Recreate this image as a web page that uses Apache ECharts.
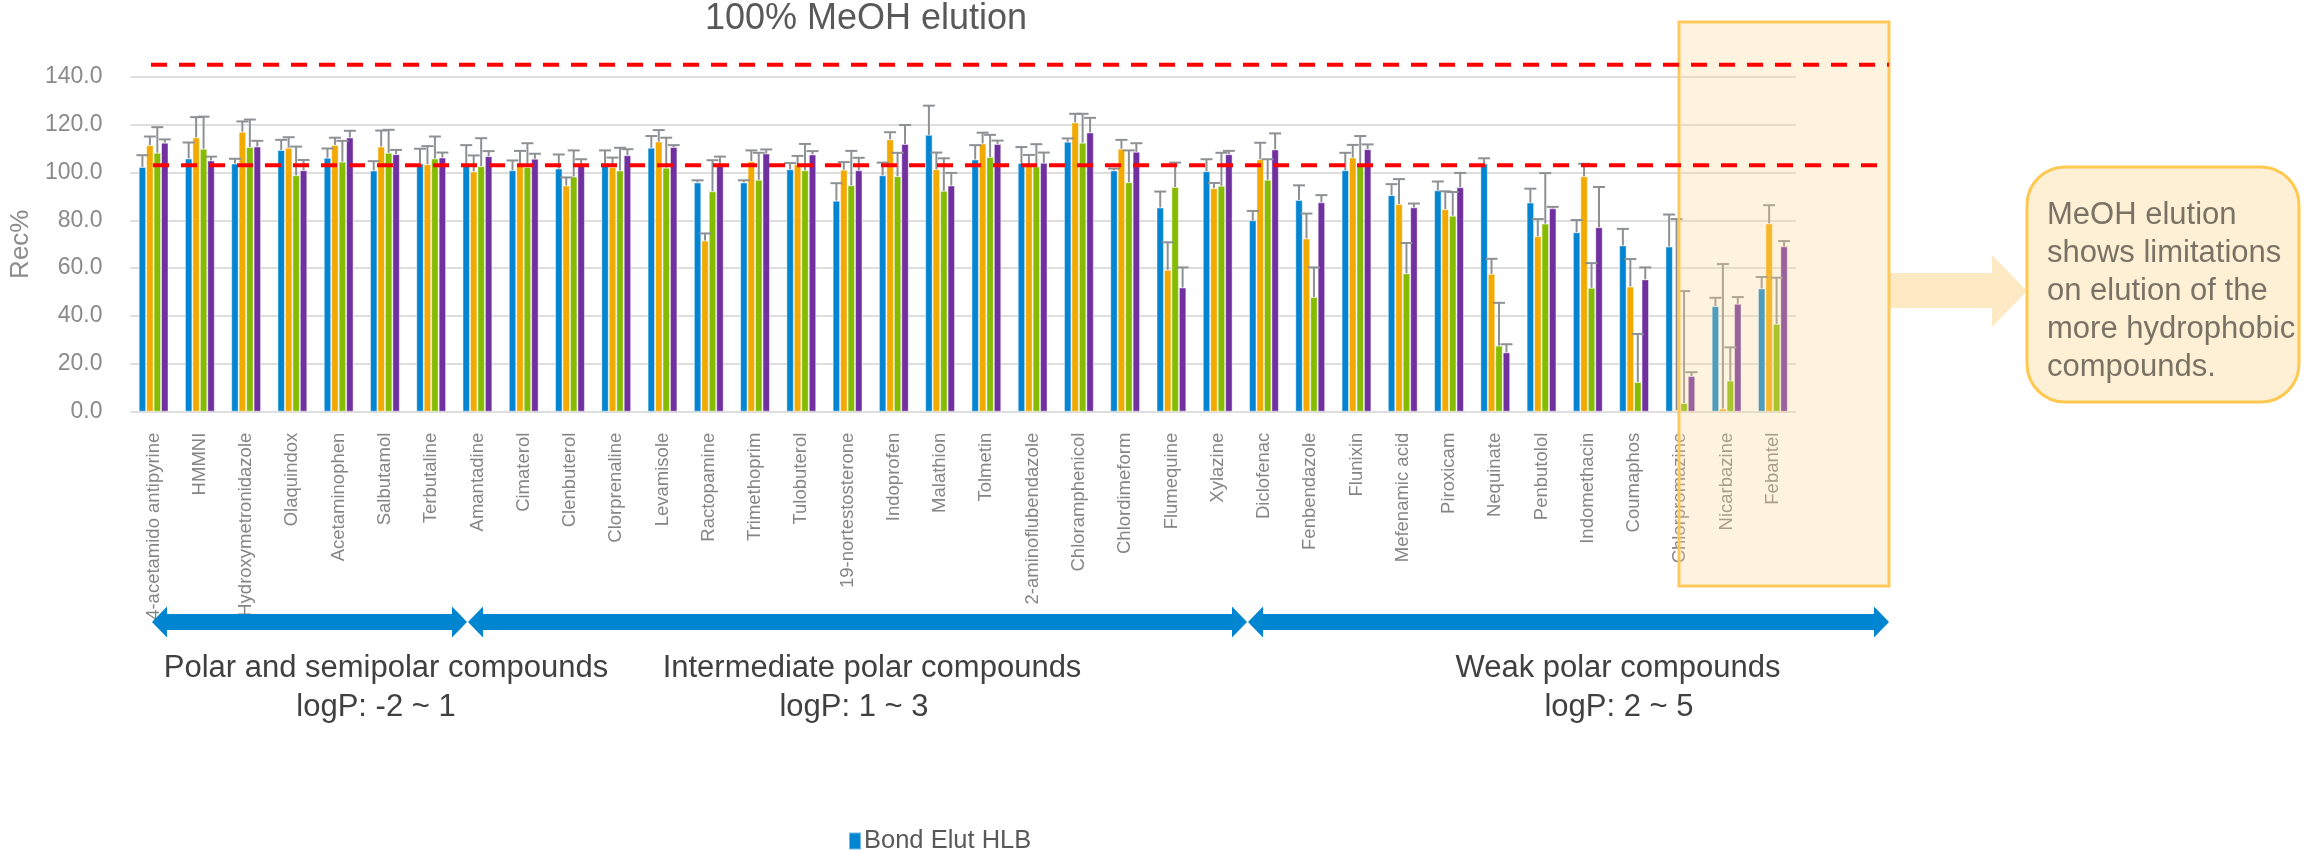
<!DOCTYPE html>
<html>
<head>
<meta charset="utf-8">
<script src="https://cdn.jsdelivr.net/npm/echarts/dist/echarts.min.js"></script>
<style>
html,body{margin:0;padding:0;background:#fff;}
#chart{width:2305px;height:850px;}
</style>
</head>
<body>
<div id="chart"></div>
<script>
// ---------------- DATA ----------------
const categories = [
  '4-acetamido antipyrine','HMMNI','Hydroxymetronidazole','Olaquindox','Acetaminophen','Salbutamol',
  'Terbutaline','Amantadine','Cimaterol','Clenbuterol','Clorprenaline','Levamisole','Ractopamine',
  'Trimethoprim','Tulobuterol','19-nortestosterone','Indoprofen','Malathion','Tolmetin',
  '2-aminoflubendazole','Chloramphenicol','Chlordimeform','Flumequine','Xylazine','Diclofenac',
  'Fenbendazole','Flunixin','Mefenamic acid','Piroxicam','Nequinate','Penbutolol','Indomethacin',
  'Coumaphos','Chlorpromazine','Nicarbazine','Febantel'
];
const seriesNames = ['Bond Elut HLB', 'Sorbent 2', 'Sorbent 3', 'Sorbent 4'];

const bondElutHLB = [102.3,105.8,103.7,109.4,106.1,100.8,103.7,103.9,100.9,101.6,103.9,110.3,95.8,95.8,101.3,88.2,98.8,115.7,105.4,103.9,112.8,100.8,85.3,100.5,80.0,88.5,100.9,90.5,92.5,103.7,87.4,75.0,69.5,69.0,44.1,51.5];
const bondElutHLBErr = [4.9,6.7,2.0,4.2,3.9,3.9,6.2,7.5,4.1,5.9,5.3,4.9,0.9,0.9,2.6,7.3,5.3,12.2,6.0,6.7,1.4,0.8,6.7,5.0,3.9,6.1,7.3,4.6,3.7,2.2,5.8,5.1,6.9,13.4,3.5,4.8];

const sorbent2 = [111.4,114.6,117.0,110.3,111.5,110.8,103.4,100.4,102.7,94.5,102.3,112.9,71.5,104.7,103.4,101.1,113.8,101.3,112.1,103.0,120.9,109.9,59.3,93.4,105.5,72.4,106.2,86.8,84.6,57.6,73.3,98.4,52.3,0.7,1.3,78.7];
const sorbent2Err = [3.6,8.5,4.3,4.4,3.0,6.7,7.6,6.7,6.3,3.4,3.9,4.8,3.0,4.5,3.5,3.2,3.0,7.0,4.5,4.3,3.6,3.7,11.5,2.2,6.9,10.4,5.3,10.4,7.5,6.3,7.2,5.2,11.5,79.8,60.4,7.6];

const sorbent3 = [108.2,109.9,110.6,98.8,104.5,108.2,105.8,102.6,102.3,98.3,100.8,102.0,92.1,96.9,100.9,94.6,98.4,92.3,106.4,102.5,112.4,95.9,93.9,94.4,96.9,47.9,103.3,57.8,81.9,27.6,78.6,51.8,12.4,3.6,13.0,36.7];
const sorbent3Err = [10.7,13.4,11.5,12.0,8.7,9.6,9.2,11.7,9.9,10.9,9.5,12.5,13.0,11.3,11.0,14.4,9.8,13.6,9.3,9.3,12.1,13.3,10.2,13.8,8.6,12.4,11.9,12.7,9.9,17.9,21.1,10.3,20.1,46.8,13.9,19.3];

const sorbent4 = [112.4,105.0,110.8,100.9,114.6,107.6,106.2,106.8,105.7,103.4,107.2,110.6,103.4,107.9,107.5,100.9,111.9,94.5,111.9,104.0,116.7,108.6,51.9,107.6,109.6,87.5,109.7,85.4,93.8,24.8,85.0,77.1,55.3,14.9,45.1,69.1];
const sorbent4Err = [1.4,1.6,2.4,4.3,2.8,1.8,2.1,2.1,2.1,2.1,2.5,0.8,3.2,1.7,1.4,5.2,7.9,5.3,1.4,4.3,6.1,3.6,8.4,1.4,6.7,3.0,2.0,1.6,6.0,3.4,0.6,16.8,5.0,1.6,2.8,2.2];

const yTicks = {min: 0, max: 140, interval: 20};
const referenceLines = [145, 103];   // red dashed lines (Rec%)
const chartTitle = '100% MeOH elution';
const groupLabels = [
  {title: 'Polar and semipolar compounds', sub: 'logP: -2 ~ 1'},
  {title: 'Intermediate polar compounds', sub: 'logP: 1 ~ 3'},
  {title: 'Weak polar compounds', sub: 'logP: 2 ~ 5'}
];
const calloutLines = ['MeOH elution', 'shows limitations', 'on elution of the', 'more hydrophobic', 'compounds.'];

// ---------------- CHART ----------------
const values = [bondElutHLB, sorbent2, sorbent3, sorbent4];
const errs = [bondElutHLBErr, sorbent2Err, sorbent3Err, sorbent4Err];
const colors = ['#0485d2', '#f2a900', '#86bc00', '#7030a0'];
const GAP = 0.355;
const FONT = '"Liberation Sans", Arial, sans-serif';

const chart = echarts.init(document.getElementById('chart'), null, {renderer: 'canvas'});

function errRender(si) {
  return function (params, api) {
    const ci = api.value(0), v = api.value(1), e = api.value(2);
    const band = api.size([1, 0])[0];
    const bw = band * (1 - GAP) / 4;
    const off = (si - 1.5) * bw;
    const p0 = api.coord([ci, v]);
    const p1 = api.coord([ci, v + e]);
    const x = p0[0] + off;
    const cap = 6;
    const st = {stroke: '#8e9194', lineWidth: 2};
    return {
      type: 'group',
      children: [
        {type: 'line', shape: {x1: x, y1: p0[1], x2: x, y2: p1[1]}, style: st},
        {type: 'line', shape: {x1: x - cap, y1: p1[1], x2: x + cap, y2: p1[1]}, style: st}
      ]
    };
  };
}

const series = [];
values.forEach((vals, si) => {
  series.push({
    name: seriesNames[si],
    type: 'bar',
    data: vals,
    barGap: '0%',
    barCategoryGap: (GAP * 100) + '%',
    itemStyle: {color: colors[si], borderColor: 'rgba(255,255,255,0.45)', borderWidth: 1},
    z: 2
  });
});
values.forEach((vals, si) => {
  series.push({
    name: seriesNames[si] + ' error',
    type: 'custom',
    renderItem: errRender(si),
    data: vals.map((v, i) => [i, v, errs[si][i]]),
    encode: {x: 0, y: 1},
    z: 3,
    silent: true
  });
});

const option = {
  animation: false,
  backgroundColor: '#ffffff',
  grid: {left: 122, right: 509, top: 76.7, bottom: 438.3, containLabel: false},
  legend: {
    data: [seriesNames[0]],
    left: 843, top: 823,
    icon: 'rect', itemWidth: 12, itemHeight: 17, itemGap: 6,
    textStyle: {fontSize: 25.5, color: '#595959', fontFamily: FONT, padding: [0, 0, 0, -2]}
  },
  xAxis: {
    type: 'category',
    data: categories,
    axisLine: {show: false},
    axisTick: {show: false},
    axisLabel: {interval: 0, rotate: 90, margin: 21, fontSize: 18.5, color: '#858585', fontFamily: FONT}
  },
  yAxis: {
    type: 'value',
    min: yTicks.min, max: yTicks.max, interval: yTicks.interval,
    name: 'Rec%',
    nameLocation: 'middle',
    nameGap: 96,
    nameTextStyle: {fontSize: 26, color: '#8c8c8c', fontFamily: FONT},
    axisLine: {show: false},
    axisTick: {show: false},
    axisLabel: {fontSize: 23, color: '#8a8a8a', margin: 28, fontFamily: FONT, formatter: v => v.toFixed(1)},
    splitLine: {lineStyle: {color: '#dedede', width: 2}}
  },
  series: series
};
chart.setOption(option);

// ---------------- ANNOTATIONS ----------------
function arrowPoints(x1, x2, yc) {
  const hl = 15, hh = 15.5, sh = 8;
  return [[x1, yc], [x1 + hl, yc - hh], [x1 + hl, yc - sh], [x2 - hl, yc - sh], [x2 - hl, yc - hh], [x2, yc],
          [x2 - hl, yc + hh], [x2 - hl, yc + sh], [x1 + hl, yc + sh], [x1 + hl, yc + hh]];
}
const g = [];
// title
g.push({type: 'text', z: 100, style: {text: chartTitle, x: 866, y: 19, textAlign: 'center', textVerticalAlign: 'middle',
  font: '36px ' + FONT, fill: '#595959'}});
// highlight box (semi-transparent)
g.push({type: 'rect', z: 50, shape: {x: 1679, y: 22, width: 210, height: 564},
  style: {fill: 'rgba(252,215,145,0.30)', stroke: '#ffc85c', lineWidth: 3}});
// reference lines
referenceLines.forEach((v, k) => {
  const y = chart.convertToPixel({yAxisIndex: 0}, v);
  g.push({type: 'line', z: 60, shape: {x1: k === 0 ? 151 : 153, y1: y, x2: 1889, y2: y},
    style: {stroke: '#ff0000', lineWidth: 4, lineDash: [16, 12]}});
});
// blue double arrows
const arrowSpans = [[152, 467], [468, 1247], [1248, 1889]];
arrowSpans.forEach(s => {
  g.push({type: 'polygon', z: 40, shape: {points: arrowPoints(s[0], s[1], 622)}, style: {fill: '#0085d1'}});
});
// group labels
const groupCenters = [[386, 376], [872, 854], [1618, 1619]];
groupLabels.forEach((gl, k) => {
  g.push({type: 'text', z: 40, style: {text: gl.title, x: groupCenters[k][0], y: 668, textAlign: 'center', textVerticalAlign: 'middle',
    font: '31px ' + FONT, fill: '#404040'}});
  g.push({type: 'text', z: 40, style: {text: gl.sub, x: groupCenters[k][1], y: 707, textAlign: 'center', textVerticalAlign: 'middle',
    font: '31px ' + FONT, fill: '#404040'}});
});
// block arrow to callout
g.push({type: 'polygon', z: 40, shape: {points: [[1890, 273], [1992, 273], [1992, 255], [2027, 291], [1992, 327], [1992, 308], [1890, 308]]},
  style: {fill: '#fdeac4'}});
// callout
g.push({type: 'rect', z: 40, shape: {x: 2027, y: 167, width: 272, height: 235, r: 38},
  style: {fill: '#fdf0d4', stroke: '#ffc850', lineWidth: 3}});
calloutLines.forEach((t, k) => {
  g.push({type: 'text', z: 41, style: {text: t, x: 2047, y: 215 + k * 38.2, textAlign: 'left', textVerticalAlign: 'middle',
    font: '31px ' + FONT, fill: '#7a7365'}});
});
chart.setOption({graphic: g});
</script>
</body>
</html>
